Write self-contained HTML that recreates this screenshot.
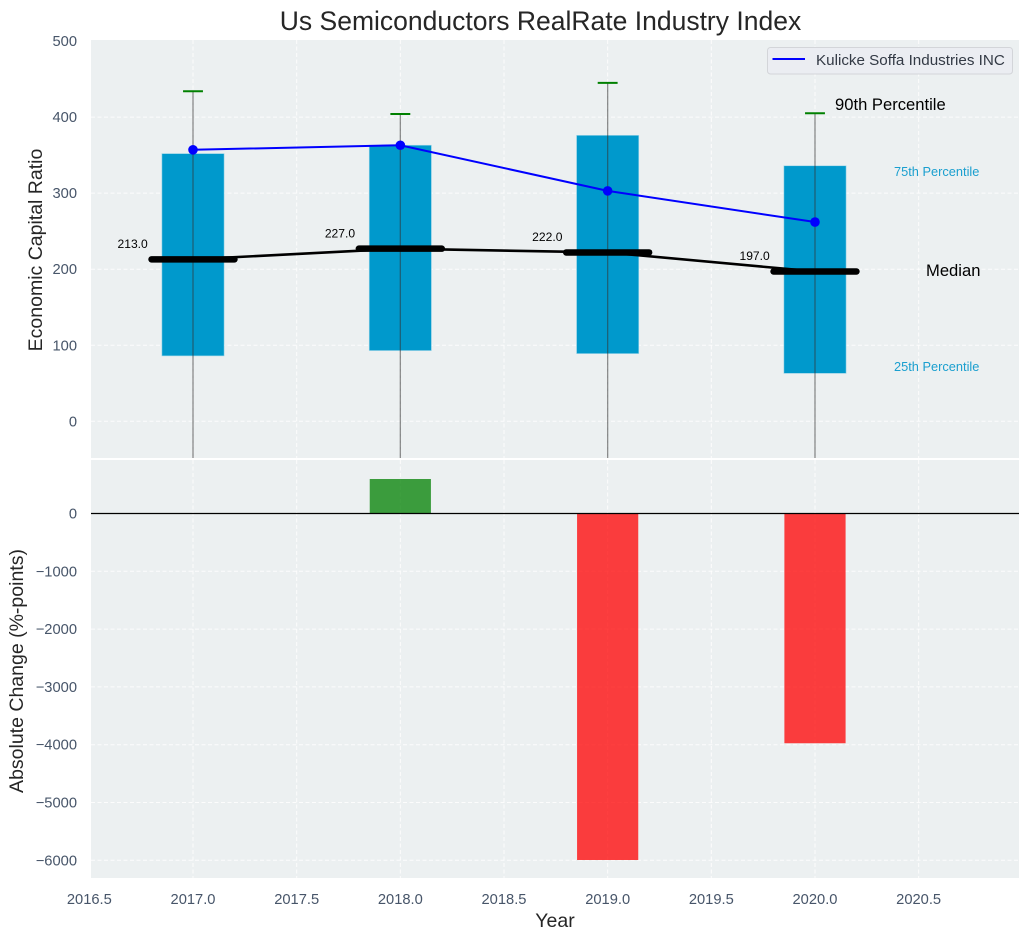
<!DOCTYPE html>
<html lang="en">
<head>
<meta charset="utf-8">
<title>Us Semiconductors RealRate Industry Index</title>
<style>
html,body{margin:0;padding:0;background:#fff;width:1029px;height:940px;overflow:hidden}
svg{display:block;font-family:"Liberation Sans",Arial,sans-serif}
</style>
</head>
<body>
<svg id="chart" xmlns="http://www.w3.org/2000/svg" width="1029" height="940" viewBox="0 0 1029 940">
<defs>
<clipPath id="top-clip"><rect x="91" y="40" width="928" height="418"/></clipPath>
<clipPath id="bottom-clip"><rect x="91" y="460" width="928" height="418"/></clipPath>
</defs>
<rect x="91" y="40" width="928" height="418" fill="#ecf0f1"/>
<rect x="91" y="460" width="928" height="418" fill="#ecf0f1"/>
<g id="grid"></g>
<g id="top-marks" clip-path="url(#top-clip)"></g>
<g id="bottom-marks" clip-path="url(#bottom-clip)"></g>
<g id="ticks"></g>
<text x="540.5" y="30" text-anchor="middle" font-size="26.5" fill="#262626">Us Semiconductors RealRate Industry Index</text>
<text transform="translate(42,250) rotate(-90)" text-anchor="middle" font-size="19.5" fill="#262626">Economic Capital Ratio</text>
<text transform="translate(23,671) rotate(-90)" text-anchor="middle" font-size="19.5" fill="#262626">Absolute Change (%-points)</text>
<text x="555" y="927" text-anchor="middle" font-size="19.5" fill="#262626">Year</text>
<g>
<rect x="767.5" y="47.5" width="245" height="26.5" rx="3" fill="#ebedf2" stroke="#d3d5d9" stroke-width="1"/>
<line x1="772.5" y1="59" x2="805" y2="59" stroke="#0000ff" stroke-width="2"/>
<text x="816" y="65" font-size="15.2" fill="#333a45">Kulicke Soffa Industries INC</text>
</g>
<text x="835" y="110" font-size="16.6" fill="#000">90th Percentile</text>
<text x="894" y="176" font-size="12.8" fill="#1a9fcf">75th Percentile</text>
<text x="926" y="276" font-size="16.6" fill="#000">Median</text>
<text x="894" y="371" font-size="12.8" fill="#1a9fcf">25th Percentile</text>
</svg>
<script>
const years = [2017, 2018, 2019, 2020];
const p90 = [434, 404, 445, 405];
const p75 = [352, 363, 376, 336];
const medians = [213, 227, 222, 197];
const p25 = [86, 93, 89, 63];
const p10 = [-100, -100, -100, -100];
const company = [357, 363, 303, 262];
const changes = [0, 597, -5995, -3975];
const xTicks = [2016.5, 2017, 2017.5, 2018, 2018.5, 2019, 2019.5, 2020, 2020.5];
const topYTicks = [0, 100, 200, 300, 400, 500];
const bottomYTicks = [0, -1000, -2000, -3000, -4000, -5000, -6000];

const NS = 'http://www.w3.org/2000/svg';
const x = v => 193 + (v - 2017) * 207.33;
const yTop = v => 421.3 - v * 0.7605;
const yBottom = v => 513.5 - v * 0.0578;

function make(parent, tag, attrs, text) {
  const el = document.createElementNS(NS, tag);
  for (const k in attrs) el.setAttribute(k, attrs[k]);
  if (text !== undefined) el.textContent = text;
  parent.appendChild(el);
  return el;
}
const gridG = document.getElementById('grid');
const tickG = document.getElementById('ticks');
const topG = document.getElementById('top-marks');
const botG = document.getElementById('bottom-marks');
const gridStyle = {stroke: '#ffffff', 'stroke-width': 1, 'stroke-dasharray': '4 2.5', opacity: 0.85};
const fmt = v => String(v).replace('-', '\u2212');

xTicks.forEach(t => {
  if (x(t) > 91) {
    const a = make(gridG, 'line', {x1: x(t), x2: x(t), y1: 40, y2: 458, ...gridStyle});
    
    
    const b = make(gridG, 'line', {x1: x(t), x2: x(t), y1: 460, y2: 878, ...gridStyle});
    
    
  }
  const l = make(tickG, 'text', {x: x(t), y: 904, 'text-anchor': 'middle', 'font-size': 14.7, fill: '#475569'}, t.toFixed(1));
  
  
});
topYTicks.forEach(t => {
  if (t < 500) {
    const g = make(gridG, 'line', {x1: 91, x2: 1019, y1: yTop(t), y2: yTop(t), ...gridStyle});
    
    
  }
  const l = make(tickG, 'text', {x: 77, y: yTop(t) + 5, 'text-anchor': 'end', 'font-size': 14.7, fill: '#475569'}, fmt(t));
  
  
});
bottomYTicks.forEach(t => {
  const g = make(gridG, 'line', {x1: 91, x2: 1019, y1: yBottom(t), y2: yBottom(t), ...gridStyle});
  
  
  const l = make(tickG, 'text', {x: 77, y: yBottom(t) + 5, 'text-anchor': 'end', 'font-size': 14.7, fill: '#475569'}, fmt(t));
  
  
});

years.forEach((yr, i) => {
  const box = make(topG, 'rect', {x: x(yr - 0.15), width: x(yr + 0.15) - x(yr - 0.15), y: yTop(p75[i]), height: yTop(p25[i]) - yTop(p75[i]), fill: '#0099cc', stroke: '#9fd6e8', 'stroke-width': 0.6});
  
  
  const w = make(topG, 'line', {x1: x(yr), x2: x(yr), y1: yTop(p90[i]), y2: yTop(p10[i]), stroke: '#333', 'stroke-opacity': 0.55, 'stroke-width': 1.3});
  
  
  const c = make(topG, 'line', {x1: x(yr - 0.048), x2: x(yr + 0.048), y1: yTop(p90[i]), y2: yTop(p90[i]), stroke: '#008000', 'stroke-width': 2});
  
  
});

const medLine = make(topG, 'polyline', {points: years.map((yr, i) => x(yr) + ',' + yTop(medians[i])).join(' '), fill: 'none', stroke: '#000', 'stroke-width': 2.6});


const coLine = make(topG, 'polyline', {points: years.map((yr, i) => x(yr) + ',' + yTop(company[i])).join(' '), fill: 'none', stroke: '#0000ff', 'stroke-width': 2});



years.forEach((yr, i) => {
  const m = make(topG, 'line', {x1: x(yr - 0.2), x2: x(yr + 0.2), y1: yTop(medians[i]), y2: yTop(medians[i]), stroke: '#000', 'stroke-width': 6.5, 'stroke-linecap': 'round'});
  
  
  const d = make(topG, 'circle', {cx: x(yr), cy: yTop(company[i]), r: 4.8, fill: '#0000ff'});
  
  
  const t = make(topG, 'text', {x: x(yr) - 75.5, y: yTop(medians[i]) - 11.3, 'font-size': 12.1, fill: '#000'}, medians[i].toFixed(1));
  
  
  if (changes[i] !== 0) {
    const top = Math.min(yBottom(changes[i]), yBottom(0));
    const h = Math.abs(yBottom(changes[i]) - yBottom(0));
    const b = make(botG, 'rect', {x: x(yr - 0.15) + 0.5, width: x(yr + 0.15) - x(yr - 0.15) - 1, y: top, height: h, fill: changes[i] > 0 ? '#008000' : '#ff0000', 'fill-opacity': 0.75});
    
    
  }
});
const zero = make(botG, 'line', {x1: 91, x2: 1019, y1: yBottom(0), y2: yBottom(0), stroke: '#000', 'stroke-width': 1.3});


</script>
</body>
</html>
